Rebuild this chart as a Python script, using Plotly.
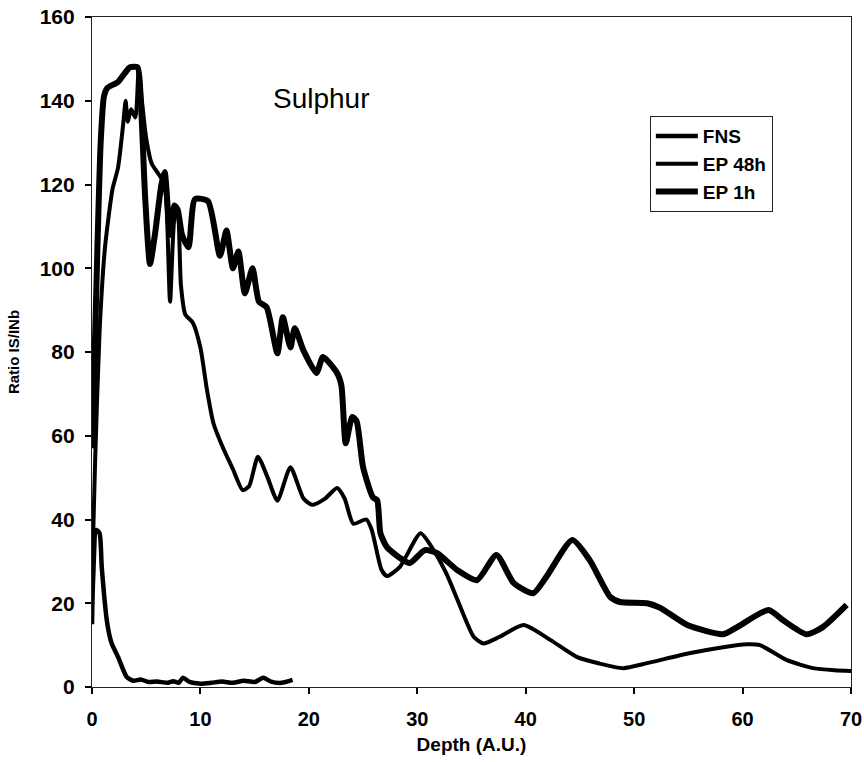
import plotly.graph_objects as go

# ---- data ----
fns_x = [0, 0.1, 0.4, 0.7, 0.9, 1.4, 1.8, 2.4, 3.2, 3.8, 4.5, 5.2, 6.0, 7.0, 7.5, 8.0, 8.4, 9.0,
         10.0, 11.0, 12.0, 13.0, 14.0, 15.0, 15.8, 16.5, 17.5, 18.5]
fns_y = [15, 25.5, 37.5, 36.7, 28.6, 15.3, 10.5, 7.2, 2.4, 1.5, 1.8, 1.2, 1.3, 1.0, 1.4, 1.0, 2.2, 1.2,
         0.8, 1.0, 1.3, 1.0, 1.5, 1.2, 2.2, 1.3, 1.0, 1.7]

ep48_x = [0, 0.3, 0.7, 1.2, 1.9, 2.4, 2.9, 3.1, 3.3, 3.6, 4.0, 4.3, 4.6, 5.0, 5.5, 6.0, 6.5, 6.8, 7.2,
          7.6, 7.9, 8.2, 8.6, 9.3, 10.0, 10.6, 11.2, 12.1, 13.0, 13.9, 14.5, 15.3, 16.2, 17.1, 18.3,
          19.5, 20.3, 21.5, 22.6, 23.3, 24.1, 25.3, 25.8, 26.7, 27.2, 28.4, 30.3, 31.5, 32.7, 33.6,
          35.2, 36.1, 37.6, 39.8, 42.3, 44.7, 46.8, 49.0, 51.2, 55.2, 58.2, 60.4, 61.6, 64.1, 66.5,
          68.5, 70.3]
ep48_y = [26, 55, 85, 105, 119, 124, 135, 140, 135, 138, 136, 147, 140, 131, 125, 123, 121, 118, 92,
          112, 114, 96, 89, 87, 81, 71, 63, 57, 52, 47, 48, 55, 50, 44.5, 52.5,
          45, 43.5, 45, 47.5, 45, 39, 40, 37.5, 28, 26.5, 28.7, 36.7, 32.7, 27, 21.5,
          12, 10.4, 12, 14.8, 11.2, 7.2, 5.6, 4.5, 5.7, 8.1, 9.5, 10.2, 10, 6.4, 4.5,
          4.0, 3.8]

ep1_x = [0, 0.2, 0.5, 0.8, 1.1, 1.4, 2.4, 3.0, 3.5, 4.2, 4.5, 4.9, 5.35, 5.8, 6.4, 6.7, 7.2, 7.6,
         7.9, 8.3, 8.9, 9.5, 10.7, 11.8, 12.4, 13.0, 13.5, 14.1, 14.8, 15.4, 16.1, 17.1, 17.6, 18.3,
         18.7, 19.5, 20.7, 21.3, 22.6, 23.0, 23.4, 24.0, 24.4, 25.0, 25.9, 26.3, 26.6, 27.2, 28.4,
         29.3, 30.7, 31.8, 33.7, 35.5, 37.3, 38.9, 40.7, 41.9, 44.3, 45.9, 47.8, 48.7, 51.2, 52.4,
         54.9, 58.2, 59.5, 62.4, 63.7, 65.9, 67.4, 69.6]
ep1_y = [57, 75, 105, 130, 141, 143, 144.5, 146.5, 148, 148, 140, 117, 101, 108, 120, 123, 108, 115,
         114, 108, 105, 116.5, 116, 103, 109, 100, 104, 94, 100, 92, 90.7, 79.7, 88.3, 81.1,
         85.7, 80.4, 75, 78.8, 75, 72, 58.2, 64.5, 63.5, 52.5, 45.3, 44.6, 36.7, 33.4, 30.8,
         29.6, 32.7, 32, 27.9, 25.5, 31.5, 24.8, 22.4, 26.3, 35.1, 30.3, 21.5, 20.3, 20, 18.9,
         14.8, 12.6, 14.3, 18.4, 16, 12.6, 14.3, 19.6]

series_names = ["FNS", "EP 48h", "EP 1h"]
x_ticks = [0, 10, 20, 30, 40, 50, 60, 70]
y_ticks = [0, 20, 40, 60, 80, 100, 120, 140, 160]

FONT = "Liberation Sans, Arial, sans-serif"

fig = go.Figure()
specs = [(fns_x, fns_y, 4.5), (ep48_x, ep48_y, 4), (ep1_x, ep1_y, 6)]
for i, (xs, ys, w) in enumerate(specs):
    fig.add_trace(go.Scatter(
        x=xs, y=ys, mode="lines", name=series_names[i],
        legendgroup=series_names[i],
        line=dict(color="black", width=w, shape="spline", smoothing=0.6),
    ))

fig.update_layout(
    width=864, height=762,
    margin=dict(l=92, r=13, t=17, b=75, autoexpand=False),
    paper_bgcolor="white", plot_bgcolor="white",
    font=dict(family=FONT, color="black"),
    showlegend=True,
    legend=dict(
        x=0.735, y=0.852, xanchor="left", yanchor="top",
        bgcolor="white", bordercolor="#222", borderwidth=1,
        font=dict(family=FONT, size=19, color="black", weight="bold"),
        traceorder="normal", tracegroupgap=0,
        itemwidth=42,
    ),
    annotations=[dict(
        text="Sulphur", x=0.303, y=0.878, xref="paper", yref="paper",
        xanchor="center", yanchor="middle", showarrow=False,
        font=dict(family=FONT, size=28, color="black"),
    )],
)

fig.update_xaxes(
    range=[0, 70], tickvals=x_ticks, ticktext=[str(v) for v in x_ticks],
    showgrid=False, zeroline=False, automargin=False,
    showline=True, linecolor="#222", linewidth=1.2, mirror=True,
    ticks="outside", ticklen=6, tickcolor="black", tickwidth=1.5,
    tickfont=dict(family=FONT, size=20, color="black", weight="bold"),
    ticklabelstandoff=8,
    title=dict(text="Depth (A.U.)", standoff=8,
               font=dict(family=FONT, size=19, color="black", weight="bold")),
)
fig.update_yaxes(
    range=[0, 160], tickvals=y_ticks, ticktext=[str(v) for v in y_ticks],
    showgrid=False, zeroline=False, automargin=False,
    showline=True, linecolor="#222", linewidth=1.2, mirror=True,
    ticks="outside", ticklen=6, tickcolor="black", tickwidth=1.5,
    tickfont=dict(family=FONT, size=21, color="black", weight="bold"),
    ticklabelstandoff=6,
    title=dict(text="Ratio IS/INb", standoff=16,
               font=dict(family=FONT, size=15, color="black", weight="bold")),
)

fig.write_html("out.html")
